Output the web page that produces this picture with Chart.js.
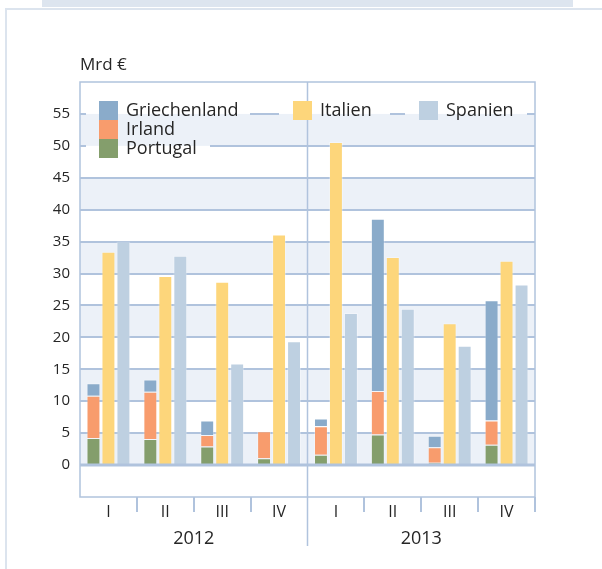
<!DOCTYPE html>
<html>
<head>
<meta charset="utf-8">
<script src="https://cdn.jsdelivr.net/npm/chart.js@4/dist/chart.umd.min.js"></script>
<style>
  html, body { margin: 0; padding: 0; background: #fff; }
  #wrap { position: relative; width: 602px; height: 569px; overflow: hidden; }
  #topbar { position: absolute; left: 42px; top: 0; width: 531px; height: 7px; background: #dde5ef; }
  #frameTop { position: absolute; left: 5px; top: 8px; width: 597px; height: 2px; background: #dce4ee; }
  #frameLeft { position: absolute; left: 5px; top: 8px; width: 2px; height: 561px; background: #dce4ee; }
  canvas { position: absolute; left: 0; top: 0; }
</style>
</head>
<body>
<div id="wrap">
  <div id="topbar"></div>
  <div id="frameTop"></div>
  <div id="frameLeft"></div>
  <canvas id="chart" width="602" height="569"></canvas>
</div>
<script>
// quarters and years on the x axis
const quarters = ["I", "II", "III", "IV", "I", "II", "III", "IV"];
const years = ["2012", "2013"];

// Mrd €, stacked parts of the first bar
const portugal     = [4.25, 4.1, 2.9, 1.05, 1.6, 4.8, 0.35, 3.2];
const irland       = [6.6, 7.4, 1.8, 4.25, 4.5, 6.8, 2.45, 3.8];
const griechenland = [1.95, 1.9, 2.3, 0, 1.2, 27.0, 1.8, 18.8];
// single bars
const italien = [33.4, 29.6, 28.7, 36.1, 50.6, 32.6, 22.2, 32.0];
const spanien = [35.0, 32.8, 15.9, 19.4, 23.8, 24.5, 18.7, 28.3];

const yTicks = [0, 5, 10, 15, 20, 25, 30, 35, 40, 45, 50, 55];

const gridColor = "#b0c3dd";
const bandColor = "#ecf1f8";
const textColor = "#262626";
const font = "'Open Sans', 'DejaVu Sans', sans-serif";

Chart.defaults.font.family = font;
Chart.defaults.color = textColor;

// light bands every other step (0-5, 10-15, ...)
function paintBands(chart) {
    const c = chart.ctx, a = chart.chartArea, y = chart.scales.y;
    c.fillStyle = "#fff";
    c.fillRect(a.left, a.top, a.right - a.left, a.bottom - a.top);
    c.fillStyle = bandColor;
    for (let v = 0; v < 55; v += 10) {
        const top = y.getPixelForValue(v + 5), bot = y.getPixelForValue(v);
        c.fillRect(a.left, top, a.right - a.left, bot - top);
    }
}

// legend items sit inside the plot, lines are cut out behind them
const legendItems = [
    { ds: 2, x: 99, y: 101, cut: [86, 250] },
    { ds: 3, x: 293, y: 101, cut: [279, 390] },
    { ds: 4, x: 419, y: 101, cut: [405, 527] },
    { ds: 1, x: 99, y: 120, cut: null },
    { ds: 0, x: 99, y: 139, cut: [86, 210] }
];

const backdrop = {
    id: "backdrop",
    beforeDraw(chart) {
        paintBands(chart);
    },
    beforeDatasetsDraw(chart) {
        const c = chart.ctx;
        legendItems.forEach(it => {
            if (!it.cut) return;
            c.save();
            c.beginPath();
            c.rect(it.cut[0], it.y, it.cut[1] - it.cut[0], 19);
            c.clip();
            paintBands(chart);
            c.restore();
        });
    },
    afterDatasetsDraw(chart) {
        const c = chart.ctx, a = chart.chartArea, x = chart.scales.x, y = chart.scales.y;
        c.save();
        // zero line on top of the bars
        c.strokeStyle = gridColor;
        c.lineWidth = 3;
        const y0 = y.getPixelForValue(0);
        c.beginPath();
        c.moveTo(a.left, y0);
        c.lineTo(a.right, y0);
        c.stroke();
        // frame of the plot
        c.lineWidth = 1.5;
        c.strokeRect(a.left, a.top, a.right - a.left, a.bottom - a.top);
        // divider between the years
        const mid = (x.getPixelForValue(3) + x.getPixelForValue(4)) / 2;
        c.beginPath();
        c.moveTo(mid, a.top);
        c.lineTo(mid, a.bottom + 49);
        c.stroke();

        // legend
        c.font = "18px " + font;
        c.textBaseline = "middle";
        c.textAlign = "left";
        legendItems.forEach(it => {
            const ds = chart.data.datasets[it.ds];
            c.fillStyle = ds.backgroundColor;
            c.fillRect(it.x, it.y, 19, 19);
            c.fillStyle = textColor;
            c.fillText(ds.label, it.x + 27, it.y + 10);
        });

        // unit
        c.font = "17px " + font;
        c.fillStyle = textColor;
        c.fillText("Mrd €", a.left, 65);
        c.restore();
    }
};

const barStyle = { borderWidth: 1, borderColor: "rgba(255,255,255,0.3)", borderSkipped: "bottom" };

new Chart(document.getElementById("chart"), {
    type: "bar",
    data: {
        labels: quarters,
        datasets: [
            { label: "Portugal", data: portugal, stack: "a", backgroundColor: "#849e6c", ...barStyle },
            { label: "Irland", data: irland, stack: "a", backgroundColor: "#f89c6d", ...barStyle },
            { label: "Griechenland", data: griechenland, stack: "a", backgroundColor: "#8aabca", ...barStyle },
            { label: "Italien", data: italien, stack: "b", backgroundColor: "#fdd67b", ...barStyle },
            { label: "Spanien", data: spanien, stack: "c", backgroundColor: "#bed0e1", ...barStyle }
        ]
    },
    options: {
        responsive: false,
        animation: false,
        categoryPercentage: 0.79,
        barPercentage: 0.93,
        layout: { padding: { left: 0, right: 67, top: 82, bottom: 0 } },
        plugins: { legend: { display: false }, tooltip: { enabled: false } },
        scales: {
            x: {
                stacked: true,
                offset: true,
                border: { display: false },
                grid: {
                    drawOnChartArea: false,
                    tickLength: 15,
                    lineWidth: 2,
                    color: ctx => (ctx.index === 0 || ctx.index === 4 || ctx.index === 8) ? "rgba(0,0,0,0)" : gridColor
                },
                ticks: { font: { size: 16 }, padding: -9, color: textColor },
                afterFit: s => { s.height = 30; }
            },
            x2: {
                type: "category",
                labels: years,
                position: "bottom",
                offset: true,
                border: { display: false },
                grid: { display: false, drawTicks: false },
                ticks: { font: { size: 18 }, padding: 1, color: textColor },
                afterFit: s => { s.height = 42; }
            },
            y: {
                stacked: true,
                min: -5,
                max: 60,
                border: { display: false },
                afterBuildTicks: s => {
                    s.ticks = [-5].concat(yTicks, [60]).map(v => ({ value: v }));
                },
                grid: {
                    drawTicks: false,
                    lineWidth: 2,
                    color: ctx => (ctx.tick && yTicks.includes(ctx.tick.value) && ctx.tick.value !== 0) ? gridColor : "rgba(0,0,0,0)"
                },
                ticks: {
                    font: { size: 15 },
                    padding: 10,
                    color: textColor,
                    callback: v => yTicks.includes(v) ? String(v) : ""
                },
                afterFit: s => { s.width = 80; }
            }
        }
    },
    plugins: [backdrop]
});
</script>
</body>
</html>
